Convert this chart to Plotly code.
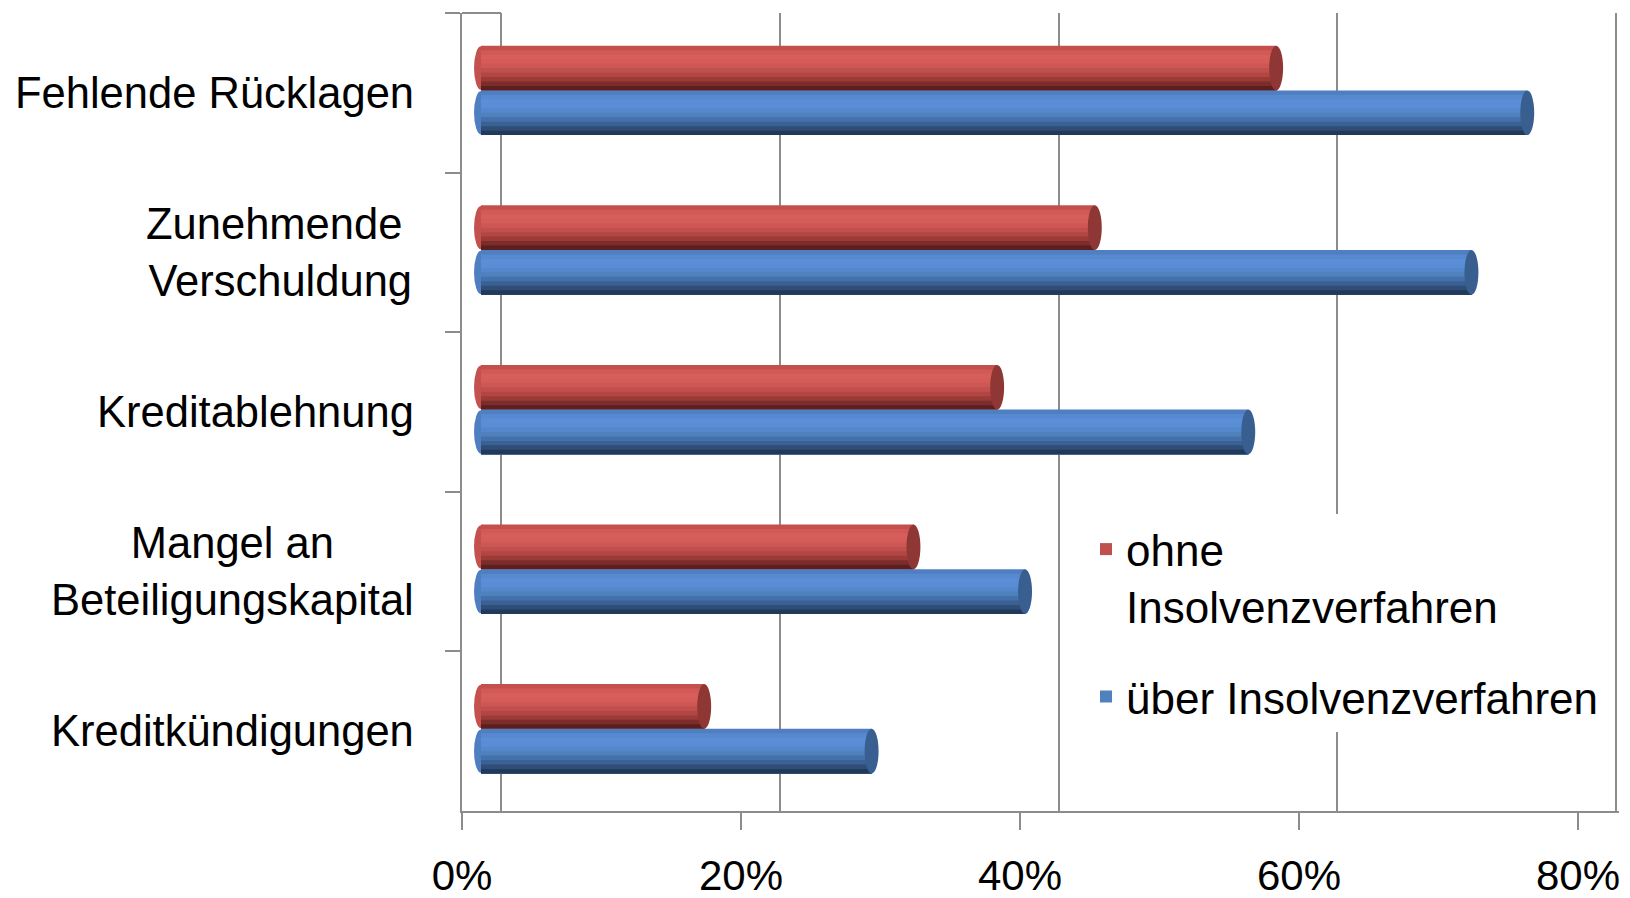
import plotly.graph_objects as go

# ---------------- data ----------------
categories = ["Fehlende Rücklagen", "Zunehmende Verschuldung", "Kreditablehnung",
              "Mangel an Beteiligungskapital", "Kreditkündigungen"]
category_labels = ["Fehlende Rücklagen", "Zunehmende <br>Verschuldung", "Kreditablehnung",
                   "Mangel an<br>Beteiligungskapital", "Kreditkündigungen"]
ohne_insolvenz = [57, 44, 37, 31, 16]
ueber_insolvenz = [75, 71, 55, 39, 28]
series_names = ["ohne<br>Insolvenzverfahren", "über Insolvenzverfahren"]
x_tick_values = [0, 20, 40, 60, 80]
x_tick_labels = ["0%", "20%", "40%", "60%", "80%"]

# ---------------- style ----------------
W, H = 1630, 898
FONT = "Liberation Sans, Arial, sans-serif"
GRID = "#8c8c8c"
red_stripes = ["#c4504c", "#d25955", "#d75e5a", "#d55c58", "#cf5753",
               "#c0504d", "#b34644", "#9b3b38", "#7c2d2b", "#5c1f1e"]
blue_stripes = ["#4f7fc0", "#5689d0", "#5a8fd7", "#598dd5", "#5388cc",
                "#4f81bd", "#4471ab", "#3a6193", "#2f4d76", "#223a5a"]
legend_stripe = 5
cap_colors = ["#8f3735", "#395f91"]
start_colors = ["#c4514e", "#4e7fc0"]


def fx(p):
    return p / W


def fy(p):
    return 1 - p / H


fig = go.Figure()

# invisible helper traces so the back-wall grid axis (x) and front tick axis (x2) are drawn
for ax in ["x", "x2"]:
    fig.add_trace(go.Scatter(
        x=x_tick_values, y=[categories[0]] * len(x_tick_values),
        mode="markers", marker=dict(opacity=0, size=1),
        showlegend=False, hoverinfo="skip", xaxis=ax, yaxis="y",
    ))

BAR_H = 0.28
FIRST_TOP = -0.295
N = len(red_stripes)
d = BAR_H / N
CAP = 0.5

series = [(ohne_insolvenz, red_stripes), (ueber_insolvenz, blue_stripes)]
shapes = []
for s, (vals, stripes) in enumerate(series):
    top = FIRST_TOP + s * BAR_H
    for k, col in enumerate(stripes):
        fig.add_trace(go.Bar(
            y=categories, x=vals, orientation="h", base=0,
            offset=top + k * d, width=(N - k) * d,
            marker=dict(color=col, line=dict(width=0)),
            name=series_names[s], legendgroup=f"g{s}", legendrank=s + 1,
            showlegend=(k == legend_stripe), hoverinfo="skip",
            xaxis="x3", yaxis="y",
        ))
    for i, v in enumerate(vals):
        # rounded start of the cylinder
        shapes.append(dict(
            type="circle", xref="x3", yref="y",
            x0=-CAP, x1=CAP, y0=i + top + 0.004, y1=i + top + BAR_H - 0.004,
            fillcolor=start_colors[s], line=dict(width=0), layer="between",
        ))
        # elliptical end caps of the cylinders
        shapes.append(dict(
            type="circle", xref="x3", yref="y",
            x0=v - CAP, x1=v + CAP, y0=i + top, y1=i + top + BAR_H,
            fillcolor=cap_colors[s], line=dict(width=0), layer="above",
        ))

# short top edge of the left side wall
shapes.append(dict(type="line", xref="paper", yref="paper",
                   x0=fx(462), x1=fx(501), y0=fy(13), y1=fy(13),
                   line=dict(color=GRID, width=2)))

annotations = []
for cat, lab in zip(categories, category_labels):
    annotations.append(dict(
        xref="paper", yref="y", x=fx(416), y=cat, text=lab,
        xanchor="right", yanchor="middle", align="center", showarrow=False,
        font=dict(family=FONT, size=43.5, color="black"),
    ))

PAD = 0.2  # small range padding so the edge grid lines are kept
PPU = (1616 - 501) / 80.0
BAR_PPU = (1597 - 481) / 80.0
BAR_PAD = 0.7  # room for the rounded start of the cylinders

fig.update_layout(
    width=W, height=H,
    margin=dict(l=0, r=0, t=0, b=0),
    template="none",
    paper_bgcolor="white", plot_bgcolor="rgba(0,0,0,0)",
    barmode="overlay",
    font=dict(family=FONT, color="black"),
    # back wall: grid lines
    xaxis=dict(domain=[fx(501 - PAD * PPU), fx(1616 + PAD * PPU)],
               range=[-PAD, 80 + PAD], anchor="y",
               tickvals=x_tick_values, showticklabels=False, ticks="",
               showgrid=True, gridcolor=GRID, gridwidth=2,
               zeroline=False, showline=True, linecolor=GRID, linewidth=2,
               automargin=False),
    # front edge: ticks and labels
    xaxis2=dict(domain=[fx(462), fx(1578)], range=[0, 80], anchor="y",
                tickvals=x_tick_values, ticktext=x_tick_labels,
                ticks="outside", ticklen=17, tickwidth=2, tickcolor=GRID,
                ticklabelstandoff=10,
                showgrid=False, zeroline=False, showline=True,
                linecolor=GRID, linewidth=2, automargin=False,
                tickfont=dict(family=FONT, size=42, color="black")),
    # bars (middle depth)
    xaxis3=dict(domain=[fx(481 - BAR_PAD * BAR_PPU), fx(1597)],
                range=[-BAR_PAD, 80], visible=False,
                anchor="y", automargin=False),
    yaxis=dict(domain=[fy(811), fy(13)], type="category",
               categoryorder="array", categoryarray=categories,
               range=[len(categories) - 0.5, -0.5], anchor="x2",
               showticklabels=False, ticks="outside", tickson="boundaries",
               ticklen=15, tickwidth=2, tickcolor=GRID, showgrid=False,
               zeroline=False, showline=True, linecolor=GRID, linewidth=2,
               automargin=False),
    legend=dict(x=fx(1086), y=fy(514), xanchor="left", yanchor="top",
                bgcolor="white", borderwidth=0, traceorder="grouped",
                valign="top", font=dict(family=FONT, size=44, color="black"),
                tracegroupgap=30),
    shapes=shapes,
    annotations=annotations,
)

fig.write_html("out.html")
